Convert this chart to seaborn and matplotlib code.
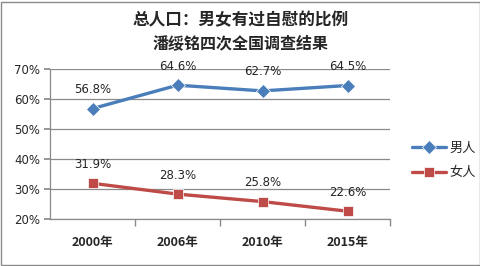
import matplotlib
matplotlib.use("Agg")
import matplotlib.pyplot as plt
import seaborn as sns
import pandas as pd
from matplotlib.patches import Rectangle

years = ["2000年", "2006年", "2010年", "2015年"]
male = [56.8, 64.6, 62.7, 64.5]
female = [31.9, 28.3, 25.8, 22.6]
series_names = ["男人", "女人"]
yticks = [20, 30, 40, 50, 60, 70]

sns.set_theme(style="white")
plt.rcParams['font.family'] = ['Noto Sans CJK SC', 'DejaVu Sans']

df = pd.DataFrame({
    "year": years * 2,
    "value": male + female,
    "sex": [series_names[0]] * 4 + [series_names[1]] * 4,
})

fig = plt.figure(figsize=(4.81, 2.66), dpi=100)
ax = fig.add_axes([50/481, 1-219/266, 340/481, 150/266])

palette = {series_names[0]: "#4A7EBB", series_names[1]: "#BE4B48"}
markers = {series_names[0]: "D", series_names[1]: "s"}
sns.lineplot(data=df, x="year", y="value", hue="sex", style="sex",
             markers=markers, dashes=False, palette=palette, ax=ax,
             linewidth=2.4, markersize=7, markeredgewidth=0.5, sort=False)

for xi, v in enumerate(male):
    ax.annotate(f"{v:.1f}%", (xi, v), xytext=(0, 9), textcoords="offset points",
                ha="center", va="bottom", fontsize=8.5, family="DejaVu Sans")
for xi, v in enumerate(female):
    ax.annotate(f"{v:.1f}%", (xi, v), xytext=(0, 9), textcoords="offset points",
                ha="center", va="bottom", fontsize=8.5, family="DejaVu Sans")

ax.set_xlim(-0.5, 3.5)
ax.set_ylim(20, 70)
ax.set_yticks(yticks)
ax.set_yticklabels([f"{t}%" for t in yticks], fontsize=8.5, family="DejaVu Sans")
ax.yaxis.grid(True, color="#8a8a8a", linewidth=0.9)
ax.set_axisbelow(True)
ax.set_xticks(range(4))
ax.set_xticklabels(years, fontsize=9, fontweight="bold")
ax.set_xticks([0.5, 1.5, 2.5, 3.5], minor=True)
ax.tick_params(axis="x", which="major", length=0, pad=12)
ax.tick_params(axis="x", which="minor", length=5, color="#8a8a8a", direction="out", bottom=True)
ax.tick_params(axis="y", length=4, color="#8a8a8a", direction="out", left=True, pad=3)
ax.set_xlabel("")
ax.set_ylabel("")
for s in ["top", "right"]:
    ax.spines[s].set_visible(False)
for s in ["left", "bottom"]:
    ax.spines[s].set_color("#8a8a8a")
    ax.spines[s].set_linewidth(0.9)

leg = ax.legend(loc="center left", bbox_to_anchor=(1.03, 0.39), frameon=False,
                fontsize=9.5, handlelength=2.6, labelspacing=0.9, handletextpad=0.2)

fig.text(0.5, 1-20/266, "总人口：男女有过自慰的比例", ha="center", va="center",
         fontsize=12, fontweight="bold")
fig.text(0.5, 1-43/266, "潘绥铭四次全国调查结果", ha="center", va="center",
         fontsize=11.5, fontweight="bold")

fig.patches.append(Rectangle((0.003, 0.004), 0.994, 0.99, transform=fig.transFigure,
                             fill=False, edgecolor="#8a8a8a", linewidth=1))

fig.savefig("out.png", dpi=100)
